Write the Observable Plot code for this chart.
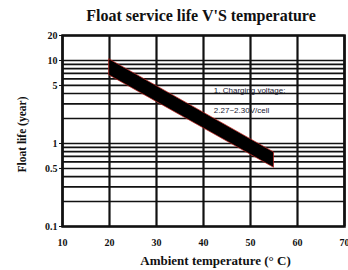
<!DOCTYPE html>
<html><head><meta charset="utf-8">
<script src="https://cdn.jsdelivr.net/npm/d3@7"></script>
<script src="https://cdn.jsdelivr.net/npm/@observablehq/plot@0.6"></script>
<style>
body{margin:0;background:#fff;}
#t{height:28px;width:348px;box-sizing:border-box;padding-left:54px;padding-right:0;text-align:center;font:bold 16px "Liberation Serif",serif;line-height:32px;color:#111;}
#c svg{display:block;}
</style>
</head><body>
<div id="t"></div>
<div id="c"></div>
<script>
const title = "Float service life V'S temperature";
const xLabel = "Ambient temperature (° C)";
const yLabel = "Float life (year)";
const xTicks = [10, 20, 30, 40, 50, 60, 70];
const yTickLabels = [20, 10, 5, 1, 0.5, 0.1];
const yGrid = [20, 10, 9, 8, 7, 6, 5, 4, 3, 2, 1, 0.9, 0.8, 0.7, 0.6, 0.5, 0.4, 0.3, 0.2, 0.1];
const bandTemp = [20, 55];
const bandUpper = [10.3, 0.78];
const bandLower = [6.6, 0.51];
const noteLines = ["1. Charging voltage:", "2.27~2.30V/cell"];
const noteTemp = [42.2, 42.2];
const noteLife = [4.35, 2.5];

document.getElementById("t").textContent = title;

const band = bandTemp.map((t, i) => ({t, hi: bandUpper[i], lo: bandLower[i]}));
const notes = noteLines.map((s, i) => ({s, t: noteTemp[i], v: noteLife[i]}));

const chart = Plot.plot({
  width: 348,
  height: 242,
  marginTop: 7,
  marginBottom: 44,
  marginLeft: 62,
  marginRight: 4,
  style: {fontFamily: "'Liberation Serif', serif", fontWeight: "bold", fontSize: "10px", color: "#111", background: "#fff"},
  x: {domain: [10, 70]},
  y: {type: "log", domain: [0.1, 20]},
  marks: [
    Plot.ruleY(yGrid, {stroke: "#111", strokeWidth: 1.7}),
    Plot.ruleX(xTicks, {stroke: "#111", strokeWidth: 2.2}),
    Plot.areaY(band, {x: "t", y1: "lo", y2: "hi", fill: "#000", stroke: "#c0201a", strokeWidth: 0.7}),
    Plot.text(notes, {x: "t", y: "v", text: "s", textAnchor: "start", fontSize: 8, fontFamily: "'Liberation Sans', sans-serif", fontWeight: "normal", fill: "#223"}),
    Plot.axisX({ticks: xTicks, tickSize: 0, tickPadding: 12, label: null, fontSize: 10}),
    Plot.axisY({ticks: yTickLabels, tickFormat: d => String(d), tickSize: 3, tickPadding: 2, fontSize: 10, label: null}),
    Plot.text([xLabel], {frameAnchor: "bottom", dx: 12, dy: 38, fontSize: 13, fontWeight: "bold"}),
    Plot.text([yLabel], {frameAnchor: "left", textAnchor: "middle", rotate: -90, dx: -40, dy: 3.5, fontSize: 11.5, fontWeight: "bold"}),
    Plot.frame({stroke: "#111", strokeWidth: 2.5})
  ]
});
document.getElementById("c").appendChild(chart);
</script>
</body></html>
